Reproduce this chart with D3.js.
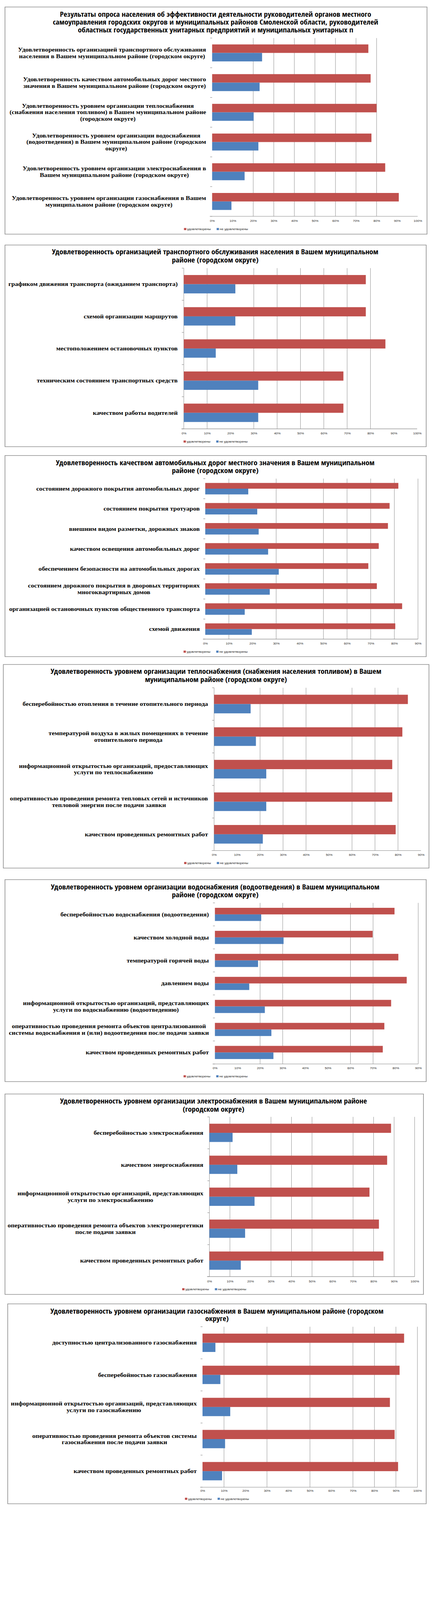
<!DOCTYPE html>
<html><head><meta charset="utf-8">
<script src="https://cdn.jsdelivr.net/npm/d3@7"></script>
<style>html,body{margin:0;padding:0;background:#fff;overflow:hidden} svg{display:block;background:#fff}</style>
</head><body>
<svg id="chart" width="1105" height="4096" viewBox="0 0 1105 4600" preserveAspectRatio="none"></svg>
<script>
// ---------- DATA ----------
const seriesNames = ["удовлетворены", "не удовлетворены"];
const ticks100 = ["0%","10%","20%","30%","40%","50%","60%","70%","80%","90%","100%"];
const ticks90  = ["0%","10%","20%","30%","40%","50%","60%","70%","80%","90%"];

const p1Title = ["Результаты опроса населения об эффективности деятельности руководителей органов местного",
  "самоуправления городских округов и муниципальных районов Смоленской области, руководителей",
  "областных государственных унитарных предприятий и муниципальных унитарных п"];
const p1Categories = [
  ["Удовлетворенность организацией транспортного обслуживания","населения в Вашем муниципальном районе (городском округе)"],
  ["Удовлетворенность качеством автомобильных дорог местного","значения в Вашем муниципальном районе (городском округе)"],
  ["Удовлетворенность уровнем организации теплоснабжения","(снабжения населения топливом) в Вашем муниципальном районе","(городском округе)"],
  ["Удовлетворенность уровнем организации водоснабжения","(водоотведения) в Вашем муниципальном районе (городском","округе)"],
  ["Удовлетворенность уровнем организации электроснабжения в","Вашем муниципальном районе (городском округе)"],
  ["Удовлетворенность уровнем организации газоснабжения в Вашем","муниципальном районе (городском округе)"]];
const p1Satisfied   = [76.0, 77.1, 80.0, 77.5, 84.2, 90.8];
const p1Unsatisfied = [24.3, 23.1, 20.2, 22.5, 15.8, 9.4];

const p2Title = ["Удовлетворенность организацией транспортного обслуживания населения в Вашем муниципальном","районе (городском округе)"];
const p2Categories = [
  ["графиком движения транспорта (ожиданием транспорта)"],
  ["схемой организации маршрутов"],
  ["местоположением остановочных пунктов"],
  ["техническим состоянием транспортных средств"],
  ["качеством работы водителей"]];
const p2Satisfied   = [78.0, 78.0, 86.4, 68.4, 68.4];
const p2Unsatisfied = [22.1, 22.1, 13.7, 31.9, 31.9];

const p3Title = ["Удовлетворенность качеством автомобильных дорог местного значения в Вашем муниципальном","районе (городском округе)"];
const p3Categories = [
  ["состоянием дорожного покрытия автомобильных дорог"],
  ["состоянием покрытия тротуаров"],
  ["внешним видом разметки, дорожных знаков"],
  ["качеством освещения автомобильных дорог"],
  ["обеспечением безопасности на автомобильных дорогах"],
  ["состоянием дорожного покрытия в дворовых территориях","многоквартирных домов"],
  ["организацией остановочных пунктов общественного транспорта"],
  ["схемой движения"]];
const p3Satisfied   = [81.7, 78.0, 77.3, 73.4, 69.0, 72.6, 83.3, 80.4];
const p3Unsatisfied = [18.2, 22.0, 22.6, 26.6, 31.1, 27.3, 16.7, 19.7];

const p4Title = ["Удовлетворенность уровнем организации теплоснабжения (снабжения населения топливом) в Вашем","муниципальном районе (городском округе)"];
const p4Categories = [
  ["бесперебойностью отопления в течение отопительного периода"],
  ["температурой воздуха в жилых помещениях в течение","отопительного периода"],
  ["информационной открытостью организаций, предоставляющих","услуги по теплоснабжению"],
  ["оперативностью проведения ремонта тепловых сетей и источников","тепловой энергии после подачи заявки"],
  ["качеством проведенных ремонтных работ"]];
const p4Satisfied   = [84.3, 81.9, 77.5, 77.5, 79.0];
const p4Unsatisfied = [15.9, 18.2, 22.7, 22.7, 21.2];

const p5Title = ["Удовлетворенность уровнем организации водоснабжения (водоотведения) в Вашем муниципальном","районе (городском округе)"];
const p5Categories = [
  ["бесперебойностью водоснабжения (водоотведения)"],
  ["качеством холодной воды"],
  ["температурой горячей воды"],
  ["давлением воды"],
  ["информационной открытостью организаций, представляющих","услуги по водоснабжению (водоотведению)"],
  ["оперативностью проведения ремонта объектов централизованной","системы водоснабжения и (или) водоотведения после подачи заявки"],
  ["качеством проведенных ремонтных работ"]];
const p5Satisfied   = [79.5, 69.8, 81.2, 84.9, 78.0, 75.0, 74.3];
const p5Unsatisfied = [20.5, 30.4, 19.1, 15.2, 22.1, 25.0, 25.9];

const p6Title = ["Удовлетворенность уровнем организации электроснабжения в Вашем муниципальном районе","(городском округе)"];
const p6Categories = [
  ["бесперебойностью электроснабжения"],
  ["качеством энергоснабжения"],
  ["информационной открытостью организаций, представляющих","услуги по электроснабжению"],
  ["оперативностью проведения ремонта объектов электроэнергетики","после подачи заявки"],
  ["качеством проведенных ремонтных работ"]];
const p6Satisfied   = [88.5, 86.6, 78.0, 82.6, 84.8];
const p6Unsatisfied = [11.3, 13.6, 22.0, 17.4, 15.3];

const p7Title = ["Удовлетворенность уровнем организации газоснабжения в Вашем муниципальном районе (городском","округе)"];
const p7Categories = [
  ["доступностью централизованного газоснабжения"],
  ["бесперебойностью газоснабжения"],
  ["информационной открытостью организаций, представляющих","услуги по газоснабжению"],
  ["оперативностью проведения ремонта объектов системы","газоснабжения после подачи заявки"],
  ["качеством проведенных ремонтных работ"]];
const p7Satisfied   = [93.8, 91.7, 87.2, 89.4, 91.0];
const p7Unsatisfied = [6.0, 8.3, 12.9, 10.5, 9.1];

// ---------- LAYOUT (positions / styles), in 1105x4600 reference units ----------
const colors = ["#C0504D", "#4F81BD"];
const layouts = [
  {box:[12.7,20.1,1092.3,673.2], titleY:[41.1,63.8,86.2], titleX:551.4, plot:[542.6,1068.4,109.4,621.9], labelRight:527.1, tickY:636, legendY:658.5, grid:[20,30,40,50,60,70,80], axisLine:false},
  {box:[12.7,704.5,1090.2,1284.2], titleY:[724.4,747.9], titleX:550.4, plot:[470.1,1067.0,770.9,1233.0], labelRight:454.5, tickY:1246.9, legendY:1269.4, grid:[10,30,40,50,60,70,80], axisLine:true},
  {box:[12.7,1309.7,1090.2,1887.8], titleY:[1330.1,1353.1], titleX:550.4, plot:[525.0,1069.1,1376.1,1837.5], labelRight:510.9, tickY:1850.9, legendY:1873.5, grid:[10,30,50,60,70,80,90], axisLine:false},
  {box:[8.5,1910.4,1097.3,2495.8], titleY:[1930.6,1953.9], titleX:552.5, plot:[547.6,1076.8,1977.3,2445.4], labelRight:532.1, tickY:2459.0, legendY:2481.2, grid:[20,30,40,60,70,80], axisLine:true},
  {box:[12.7,2528.9,1090.2,3109.6], titleY:[2550.3,2572.9], titleX:550.4, plot:[549.7,1069.8,2595.8,3058.9], labelRight:534.2, tickY:3071.7, legendY:3094.3, grid:[20,30,60,70,90], axisLine:false},
  {box:[12.7,3145.2,1083.2,3721.4], titleY:[3165.8,3188.8], titleX:546.2, plot:[535.6,1060.6,3211.0,3670.2], labelRight:520.1, tickY:3684.4, legendY:3706.5, grid:[10,30,40,50,70,80,90,100], axisLine:true},
  {box:[19.7,3748.6,1090.2,4323.3], titleY:[3769.2,3791.4], titleX:555.0, plot:[518.0,1067.7,3814.4,4275.7], labelRight:503.2, tickY:4286.7, legendY:4309.0, grid:[10,30,50,70,80,90,100], axisLine:false}
];

const panels = [
  {title:p1Title, cats:p1Categories, vals:[p1Satisfied,p1Unsatisfied], ticks:ticks100},
  {title:p2Title, cats:p2Categories, vals:[p2Satisfied,p2Unsatisfied], ticks:ticks100},
  {title:p3Title, cats:p3Categories, vals:[p3Satisfied,p3Unsatisfied], ticks:ticks90},
  {title:p4Title, cats:p4Categories, vals:[p4Satisfied,p4Unsatisfied], ticks:ticks90},
  {title:p5Title, cats:p5Categories, vals:[p5Satisfied,p5Unsatisfied], ticks:ticks90},
  {title:p6Title, cats:p6Categories, vals:[p6Satisfied,p6Unsatisfied], ticks:ticks100},
  {title:p7Title, cats:p7Categories, vals:[p7Satisfied,p7Unsatisfied], ticks:ticks100}
];

const TITLE_FONT = "'Liberation Sans Narrow','Arial Narrow','Open Sans Condensed',Roboto,'Liberation Sans',sans-serif";
const LABEL_FONT = "'Liberation Serif','Times New Roman',serif";
const SMALL_FONT = "'Liberation Sans',Arial,sans-serif";
const GRID = "#878787";

const svg = d3.select("#chart");
svg.append("rect").attr("width",1105).attr("height",4600).attr("fill","#fff");

// calibrate font sizes to the reference text widths
function fitSize(font, weight, base, sample, target) {
  const t = svg.append("text").attr("font-family", font).attr("font-weight", weight)
    .attr("font-size", base).text(sample);
  const w = t.node().getComputedTextLength();
  t.remove();
  return base * target / w;
}
const titleSize = fitSize(TITLE_FONT, "bold", 18, p1Title[0], 796);
const labelSize = Math.min(18, fitSize(LABEL_FONT, "bold", 16, p3Categories[6][0], 487));

panels.forEach((p, pi) => {
  const L = layouts[pi];
  const g = svg.append("g").attr("class","panel");
  const [bx0,by0,bx1,by1] = L.box;
  g.append("rect").attr("x",bx0).attr("y",by0).attr("width",bx1-bx0).attr("height",by1-by0)
    .attr("fill","#fff").attr("stroke","#8a8a8a").attr("stroke-width",1.6);

  // title
  p.title.forEach((line, i) => {
    g.append("text").attr("x",L.titleX).attr("y",L.titleY[i] + titleSize * 0.36)
      .attr("text-anchor","middle").attr("font-family",TITLE_FONT).attr("font-weight","bold")
      .attr("font-size",titleSize).attr("fill","#000").text(line);
  });

  const [left,right,top,bottom] = L.plot;
  const maxV = (p.ticks.length - 1) * 10;
  const x = d3.scaleLinear().domain([0, maxV]).range([left, right]);
  const catIdx = p.cats.map((c, i) => i);
  const y = d3.scaleBand().domain(catIdx).range([top, bottom]).paddingInner(0).paddingOuter(0);
  const inner = d3.scaleBand().domain([0,1]).range([0, y.bandwidth()]).paddingInner(0).paddingOuter(0.75);

  // gridlines
  const gridVals = L.grid || d3.range(10, maxV + 1, 10);
  g.selectAll("line.grid").data(gridVals).join("line").attr("class","grid")
    .attr("x1", d => x(d)).attr("x2", d => x(d)).attr("y1", top).attr("y2", bottom)
    .attr("stroke", GRID).attr("stroke-width", 1);

  // category axis
  if (L.axisLine) {
    g.append("line").attr("x1",left).attr("x2",left).attr("y1",top).attr("y2",bottom)
      .attr("stroke",GRID).attr("stroke-width",1);
  }
  const bounds = d3.range(0, p.cats.length + 1).map(i => top + i * y.step());
  g.selectAll("line.ctick").data(bounds).join("line").attr("class","ctick")
    .attr("x1", left - 5).attr("x2", left).attr("y1", d => d).attr("y2", d => d)
    .attr("stroke", GRID).attr("stroke-width", 1.2);

  // bars
  p.vals.forEach((series, si) => {
    g.selectAll("rect.s"+si).data(series).join("rect").attr("class","s"+si)
      .attr("x", x(0)).attr("y", (d, i) => y(i) + inner(si))
      .attr("width", d => x(d) - x(0)).attr("height", inner.bandwidth())
      .attr("fill", colors[si]);
  });

  // value axis line
  g.append("line").attr("x1", left - 6).attr("x2", right).attr("y1", bottom).attr("y2", bottom)
    .attr("stroke", GRID).attr("stroke-width", 1.3);

  // tick labels via axis
  const axis = d3.axisBottom(x).tickValues(d3.range(0, maxV + 1, 10))
    .tickFormat((d, i) => p.ticks[i]).tickSize(0);
  const ag = g.append("g").attr("transform", `translate(0,${L.tickY - 7})`).call(axis);
  ag.select(".domain").remove();
  ag.selectAll("text").attr("font-family", SMALL_FONT).attr("font-size", 8.5).attr("fill", "#222").attr("dy", "0.71em").attr("y", 3);

  // category labels (centered blocks, right aligned)
  p.cats.forEach((lines, ci) => {
    const cy = y(ci) + y.bandwidth() / 2;
    const lh = 18.8;
    const tg = g.append("g");
    const ts = lines.map((line, li) => tg.append("text")
      .attr("y", cy + (li - (lines.length - 1) / 2) * lh + labelSize * 0.33)
      .attr("text-anchor", "middle").attr("font-family", LABEL_FONT).attr("font-weight", "bold")
      .attr("font-size", labelSize).attr("fill", "#000").text(line));
    const w = d3.max(ts, t => t.node().getComputedTextLength());
    ts.forEach(t => t.attr("x", L.labelRight - w / 2));
  });

  // legend
  const lg = g.append("g");
  let cx = 0;
  seriesNames.forEach((name, si) => {
    lg.append("rect").attr("x", cx).attr("y", L.legendY - 3).attr("width", 6).attr("height", 6).attr("fill", colors[si]);
    const t = lg.append("text").attr("x", cx + 8).attr("y", L.legendY + 3)
      .attr("font-family", SMALL_FONT).attr("font-size", 8.5).attr("fill", "#222").text(name);
    cx += 8 + t.node().getComputedTextLength() + 15;
  });
  const lw = cx - 15;
  lg.attr("transform", `translate(${(bx0 + bx1) / 2 - lw / 2},0)`);
});
</script>
</body></html>
